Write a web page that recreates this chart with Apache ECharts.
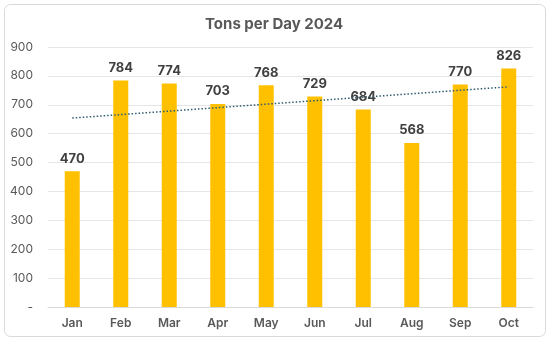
<!DOCTYPE html>
<html><head><meta charset="utf-8">
<script src="https://cdn.jsdelivr.net/npm/echarts@6/dist/echarts.min.js"></script>
<style>html,body{margin:0;padding:0;background:#fff}#c{width:550px;height:342px}</style>
</head><body><div id="c"></div>
<script>
const months = ['Jan','Feb','Mar','Apr','May','Jun','Jul','Aug','Sep','Oct'];
const tonsPerDay = [470,784,774,703,768,729,684,568,770,826];
// linear trendline endpoints (Jan, Oct)
const trendEnds = [654, 762];
const yTicks = [0,100,200,300,400,500,600,700,800,900];

const trendData = months.map((m,i)=> i===0 ? trendEnds[0] : (i===months.length-1 ? trendEnds[1] : null));
const font = 'Inter, "Open Sans", sans-serif';
const chart = echarts.init(document.getElementById('c'), null, {renderer:'canvas'});
chart.setOption({
  animation:false,
  graphic:[{type:'rect',shape:{x:4.5,y:4.5,width:541,height:332,r:6},style:{fill:'none',stroke:'#D9D9D9',lineWidth:1},silent:true}],
  title:{text:'Tons per Day 2024',left:200,top:12,textStyle:{fontFamily:font,fontSize:15,fontWeight:'bold',color:'#595959'}},
  grid:{left:48,right:17,top:47,bottom:35},
  xAxis:{type:'category',data:months,axisTick:{show:false},
    axisLine:{lineStyle:{color:'#D9D9D9'}},
    axisLabel:{fontFamily:font,fontSize:12,fontWeight:600,color:'#595959',margin:10}},
  yAxis:{type:'value',min:yTicks[0],max:yTicks[yTicks.length-1],interval:100,
    splitLine:{lineStyle:{color:'#E6E6E6'}},axisLine:{show:false},axisTick:{show:false},
    axisLabel:{fontFamily:font,fontSize:12,color:'#595959',margin:15,formatter:v=>v===0?'-':String(v)}},
  series:[
    {type:'bar',data:tonsPerDay,barWidth:15,itemStyle:{color:'#FFC000'},
     label:{show:true,position:'top',distance:6,fontFamily:font,fontSize:13,fontWeight:'bold',color:'#404040'}},
    {type:'line',data:trendData,connectNulls:true,symbol:'none',z:5,
     lineStyle:{color:'#2E5C6E',width:1.5,type:[1.5,2]}}
  ]
});
</script></body></html>
